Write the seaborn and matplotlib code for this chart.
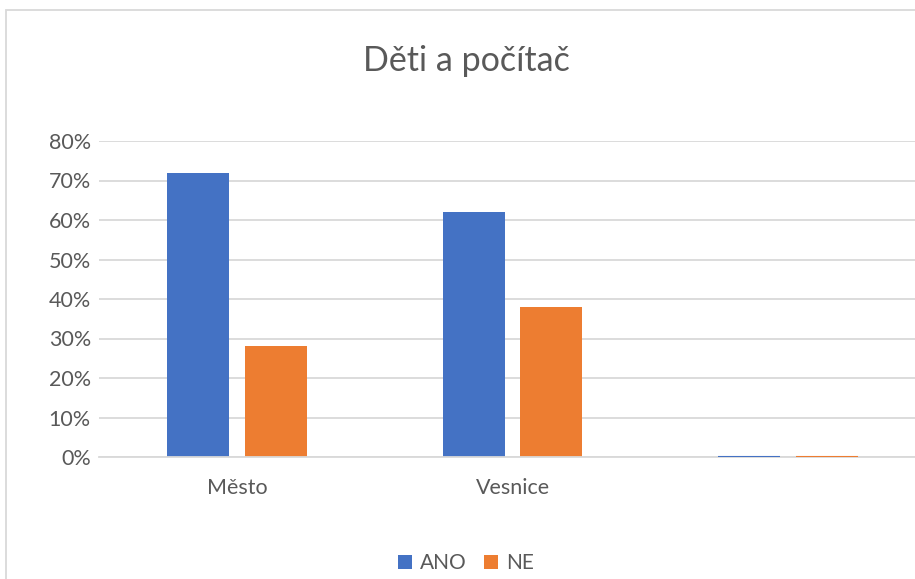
import matplotlib
matplotlib.use("Agg")
import matplotlib.pyplot as plt
import seaborn as sns
import pandas as pd
from matplotlib.patches import Rectangle, Patch
from matplotlib.ticker import FuncFormatter

title = "Děti a počítač"
categories = ["Město", "Vesnice", ""]
series_names = ["ANO", "NE"]
ano = [0.72, 0.62, 0.0]
ne = [0.28, 0.38, 0.0]
yticks = [0, 0.1, 0.2, 0.3, 0.4, 0.5, 0.6, 0.7, 0.8]
colors = ["#4472C4", "#ED7D31"]

sns.set_theme(style="white")
plt.rcParams['font.family'] = ['Lato', 'DejaVu Sans']
text_color = "#595959"
grid_color = "#d9d9d9"

df = pd.DataFrame({"cat": categories * 2,
                   "series": [series_names[0]] * 3 + [series_names[1]] * 3,
                   "value": ano + ne})

fig = plt.figure(figsize=(9.15, 5.79), dpi=100)
# chart frame
fig.patches.append(Rectangle((6 / 915, -0.1), 1.2, 1 - 10 / 579 + 0.1,
                             transform=fig.transFigure, fill=False,
                             edgecolor=grid_color, linewidth=1.3, zorder=0))

ax = fig.add_axes([99.25 / 915, 1 - 457 / 579, 826.5 / 915, 316 / 579])
sns.barplot(data=df, x="cat", y="value", hue="series", order=categories,
            hue_order=series_names, palette=colors, width=0.566, gap=0.205,
            linewidth=0, errorbar=None, ax=ax, legend=False, saturation=1)

for p in ax.patches:
    if p.get_height() == 0:
        p.set_edgecolor(p.get_facecolor())
        p.set_linewidth(1.5)
        p.set_zorder(3)

ax.set_xlim(-0.5, 2.5)
ax.set_ylim(0, 0.8)
ax.set_yticks(yticks)
ax.yaxis.set_major_formatter(FuncFormatter(lambda v, _: f"{v * 100:.0f}%"))
ax.grid(axis="y", color=grid_color, linewidth=1.3)
ax.set_axisbelow(True)
for s in ["top", "right", "left"]:
    ax.spines[s].set_visible(False)
ax.spines["bottom"].set_color(grid_color)
ax.spines["bottom"].set_linewidth(1.3)
ax.tick_params(axis="y", length=0, pad=6, labelsize=15.5, labelcolor=text_color)
ax.tick_params(axis="x", length=0, pad=15, labelsize=15.5, labelcolor=text_color)
ax.set_xlabel("")
ax.set_ylabel("")

fig.text(466 / 915, 1 - 61 / 579, title, ha="center", va="center",
         fontsize=24.5, color=text_color)

handles = [Patch(facecolor=c, edgecolor="none") for c in colors]
fig.legend(handles, series_names, loc="center", bbox_to_anchor=(466 / 915, 1 - 563 / 579),
           ncol=2, frameon=False, fontsize=15, labelcolor=text_color,
           handlelength=0.65, handleheight=0.65, handletextpad=0.38, columnspacing=0.85)

fig.savefig("out.png", dpi=100)
